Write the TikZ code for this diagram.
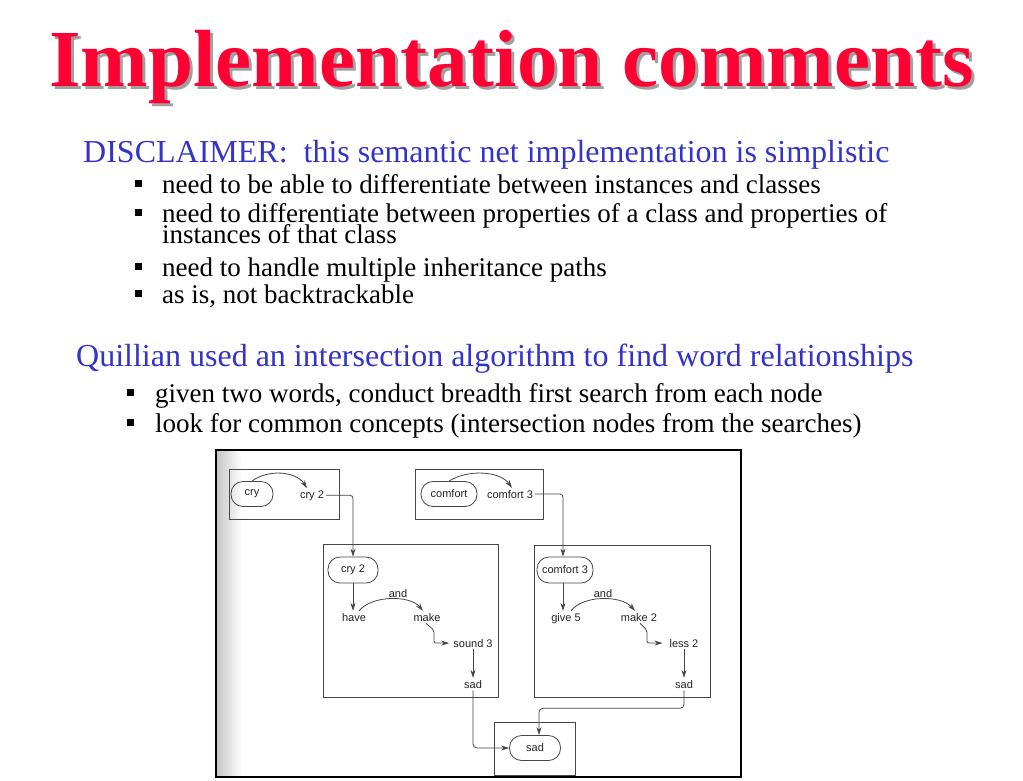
\documentclass[tikz,border=0pt]{standalone}
\usepackage{fontspec}
\setmainfont{Liberation Serif}
\newfontfamily\diagfont{Liberation Sans}
\usetikzlibrary{arrows.meta,calc}
\definecolor{titlered}{RGB}{255,0,51}
\definecolor{headblue}{RGB}{51,51,204}
\definecolor{lgray}{RGB}{70,70,70}
\definecolor{tgray}{RGB}{35,35,35}
\definecolor{shadowgray}{RGB}{160,160,160}
\newcommand{\shadowtext}[1]{\rlap{\raisebox{-3pt}[0pt][0pt]{\hspace*{3pt}\textcolor{shadowgray}{#1}}}\textcolor{titlered}{#1}}
\newcommand{\tightlines}{\lineskiplimit=-30pt\relax}
\begin{document}
\begin{tikzpicture}[x=1pt,y=-1pt,
  txt/.style={anchor=base west, inner sep=0pt},
  titlefont/.style={txt, font=\fontsize{81}{81}\selectfont\bfseries},
  head/.style={txt, text=headblue, font=\fontsize{32}{32}\selectfont},
  item/.style={txt, text=black, font=\fontsize{27}{21}\selectfont\tightlines, align=left},
  bul/.style={fill=black, inner sep=0pt, minimum size=7pt},
  frame/.style={draw=lgray, line width=0.8pt, inner sep=0pt},
  oval/.style={draw=lgray, line width=0.8pt, rounded corners=12pt, minimum height=25pt, inner sep=0pt, text=tgray, font=\diagfont\fontsize{11}{11}\selectfont},
  lab/.style={anchor=base, inner sep=2pt, text=tgray, font=\diagfont\fontsize{11}{11}\selectfont},
  conn/.style={draw=lgray, line width=0.8pt, -{Stealth[length=8pt,width=5pt]}},
]
\useasboundingbox (0,0) rectangle (1023,780);
\fill[white] (0,0) rectangle (1023,780);

% title with shadow
\node[titlefont] (title) at (49,86) {\shadowtext{Implementation comments}};

% first block
\node[head] (h1) at (83,162) {DISCLAIMER:\ \ this semantic net implementation is simplistic};
\node[bul] (b1) at (138.5,183.5) {};
\node[item] (i1) at (162,193) {need to be able to differentiate between instances and classes};
\node[bul] (b2) at (138.5,212.5) {};
% base anchor of a two-line node is the baseline of its last line
\node[item] (i2) at (162,243) {need to differentiate between properties of a class and properties of\\instances of that class};
\node[bul] (b3) at (138.5,266.5) {};
\node[item] (i3) at (162,276) {need to handle multiple inheritance paths};
\node[bul] (b4) at (138.5,293.5) {};
\node[item] (i4) at (162,303) {as is, not backtrackable};

% second block
\node[head] (h2) at (76,366) {Quillian used an intersection algorithm to find word relationships};
\node[bul] (c1) at (130.5,392.5) {};
\node[item] (j1) at (155,402) {given two words, conduct breadth first search from each node};
\node[bul] (c2) at (130.5,422.5) {};
\node[item] (j2) at (155,432) {look for common concepts (intersection nodes from the searches)};

% diagram frame
\shade[left color=black!22, right color=white] (217,451) rectangle (242,776);
\draw[black, line width=1.2pt] (216,450) rectangle (741,777);

\node[frame, minimum width=110pt, minimum height=50pt] (fr1) at (284,494) {};
\node[frame, minimum width=128pt, minimum height=50pt] (fr2) at (479,494) {};
\node[frame, minimum width=175pt, minimum height=153pt] (fr3) at (410.5,620.5) {};
\node[frame, minimum width=176pt, minimum height=152pt] (fr4) at (622,621) {};
\node[frame, minimum width=81pt, minimum height=53pt] (fr5) at (534.5,748.5) {};

% ovals
\node[oval, minimum width=42pt] (cry) at (252,494) {cry};
\node[oval, minimum width=56pt] (comfort) at (449,494) {comfort};
\node[oval, minimum width=50pt, minimum height=26pt] (cry2b) at (353,570) {cry 2};
\node[oval, minimum width=56pt, minimum height=26pt] (comf3b) at (565,570) {comfort 3};
\node[oval, minimum width=51pt] (sadf) at (535,748) {sad};

% labels
\node[lab] (cry2a) at (312,498) {cry 2};
\node[lab] (comf3a) at (510,498) {comfort 3};
\node[lab] (and1) at (398,597) {and};
\node[lab] (have) at (354,621) {have};
\node[lab] (make) at (427,621) {make};
\node[lab] (sound3) at (473,647) {sound 3};
\node[lab] (sad1) at (473,688) {sad};
\node[lab] (and2) at (603,597) {and};
\node[lab] (give5) at (566,621) {give 5};
\node[lab] (make2) at (639,621) {make 2};
\node[lab] (less2) at (684,647) {less 2};
\node[lab] (sad2) at (684,688) {sad};

% connectors
\draw[conn] (cry.north) .. controls (268,469) and (296,471) .. ([xshift=-5pt]cry2a.north);
\draw[conn, rounded corners=3pt] (cry2a.east) -| (cry2b.north);
\draw[conn] (comfort.north) .. controls (468,469) and (500,471) .. ([xshift=2pt]comf3a.north);
\draw[conn, rounded corners=3pt] (comf3a.east) -| ([xshift=-2pt]comf3b.north);

\draw[conn] (cry2b.south) -- (cry2b.south |- have.north);
\draw[conn] ([xshift=5pt]have.north) .. controls (372,595) and (410,595) .. ([xshift=-4pt]make.north);
\draw[conn, rounded corners=2pt] ([xshift=-1pt]make.south) -- ++(8,7) |- ([xshift=-2pt]sound3.west);
\draw[conn] (sound3.south) -- (sound3.south |- sad1.north);
\draw[conn, rounded corners=4pt] (sad1.south) |- (sadf.west);

\draw[conn] ([xshift=-2pt]comf3b.south) -- ([xshift=-2pt]comf3b.south |- give5.north);
\draw[conn] ([xshift=5pt]give5.north) .. controls (583,595) and (621,595) .. ([xshift=-4pt]make2.north);
\draw[conn, rounded corners=2pt] ([xshift=1pt]make2.south) -- ++(7,7) |- ([xshift=-5pt]less2.west);
\draw[conn] (less2.south) -- (less2.south |- sad2.north);
\draw[conn, rounded corners=4pt] (sad2.south) -- ++(0,18) -| ([xshift=4pt]sadf.north);
\end{tikzpicture}
\end{document}
